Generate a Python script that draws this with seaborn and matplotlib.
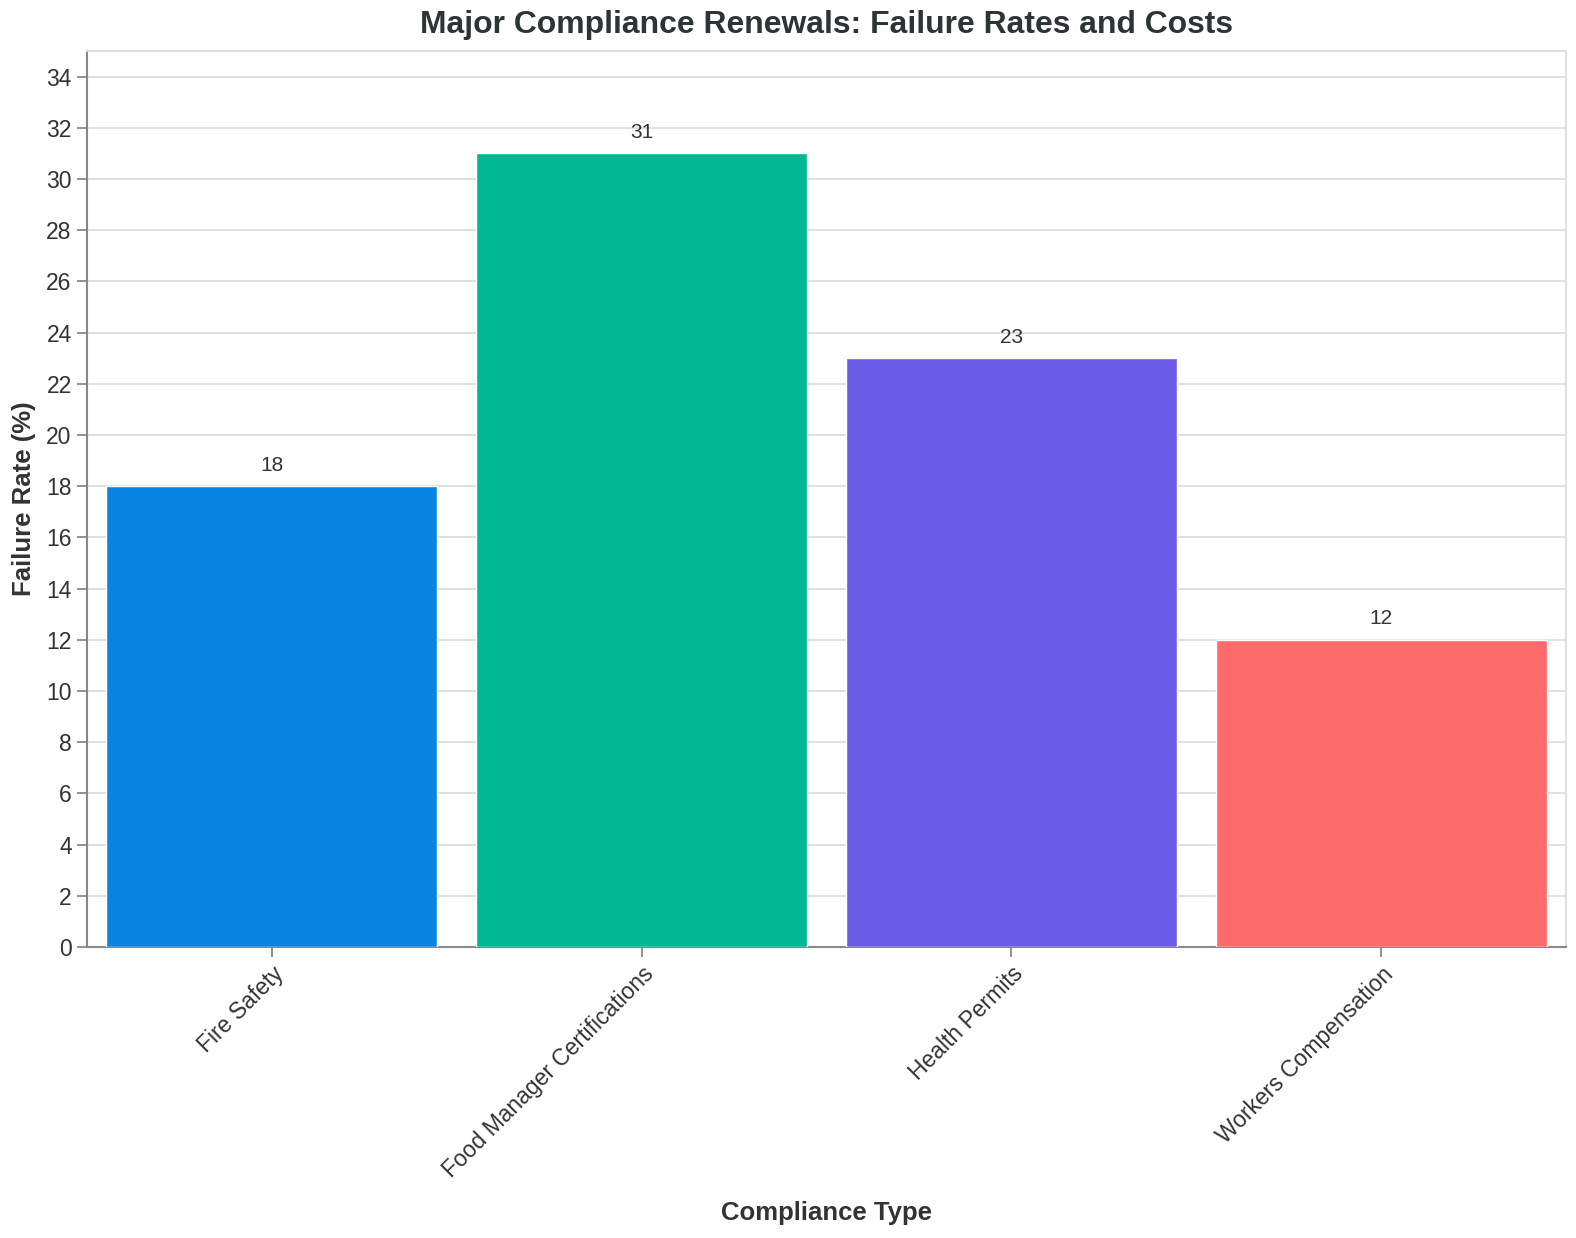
import matplotlib
matplotlib.use("Agg")
import matplotlib.pyplot as plt
import seaborn as sns
import pandas as pd

categories = ["Fire Safety", "Food Manager Certifications", "Health Permits", "Workers Compensation"]
failure_rates = [18, 31, 23, 12]
colors = ["#0984e3", "#00b894", "#6c5ce7", "#ff6b6b"]
y_ticks = list(range(0, 35, 2))
title_text = "Major Compliance Renewals: Failure Rates and Costs"

df = pd.DataFrame({"Compliance Type": categories, "Failure Rate (%)": failure_rates})

sns.set_theme(style="white")
plt.rcParams["font.family"] = ["Liberation Sans", "DejaVu Sans"]

W, H = 1576, 1238
fig = plt.figure(figsize=(W / 100, H / 100), dpi=100)
ax = fig.add_axes([0.0552, 0.235, 0.9385, 0.7238])

sns.barplot(data=df, x="Compliance Type", y="Failure Rate (%)", hue="Compliance Type",
            palette=colors, order=categories, hue_order=categories, width=0.895,
            legend=False, ax=ax, saturation=1, zorder=3)

ax.set_ylim(0, 35)
ax.set_xlim(-0.5, 3.5)
ax.set_yticks(y_ticks)
ax.yaxis.grid(True, color="#dddddd", linewidth=1.3, zorder=0)
ax.axhline(35, color="#dddddd", linewidth=1.3, zorder=0)
ax.set_axisbelow(True)

for s in ["top", "right"]:
    ax.spines[s].set_color("#dddddd")
    ax.spines[s].set_linewidth(1.3)
for s in ["left", "bottom"]:
    ax.spines[s].set_color("#888888")
    ax.spines[s].set_linewidth(1.5)

ax.tick_params(axis="both", which="both", length=7, width=1.3, color="#888888",
               labelsize=16.5, labelcolor="#333333", left=True, bottom=True, pad=4)
plt.setp(ax.get_xticklabels(), rotation=45, ha="right", rotation_mode="anchor")

for i, v in enumerate(failure_rates):
    ax.text(i, v + 0.45, f"{v}", ha="center", va="bottom", fontsize=15, color="#333333")

ax.set_xlabel("Compliance Type", fontsize=18.5, fontweight="bold", color="#333333", va="center")
ax.set_ylabel("Failure Rate (%)", fontsize=18.5, fontweight="bold", color="#333333", va="center")
ax.xaxis.set_label_coords(0.5, -0.297)
ax.yaxis.set_label_coords(-0.0428, 0.5)

# title: fit to the reference width (~814 px), centred over the plot area
title_cx = (0.0552 + 0.9385 / 2)
t = fig.text(title_cx, 1 - 32.5 / H, title_text, ha="center", va="baseline",
             fontsize=21, fontweight="bold", color="#2d3436")
fig.canvas.draw()
r = fig.canvas.get_renderer()
w = t.get_window_extent(r).width
t.set_fontsize(21 * 814 / w)

fig.savefig("out.png", dpi=100, facecolor="white")
